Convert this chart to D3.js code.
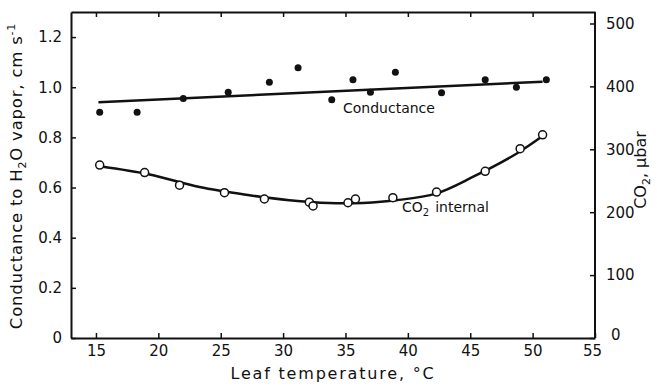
<!DOCTYPE html>
<html>
<head>
<meta charset="utf-8">
<script src="https://cdn.jsdelivr.net/npm/d3@7"></script>
<style>
  html, body { margin: 0; padding: 0; background: #fff; }
  svg text { font-family: "DejaVu Sans", sans-serif; fill: #111; }
</style>
</head>
<body>
<svg id="chart" width="657" height="390"></svg>
<script>
// leaf temperature (°C) and stomatal conductance (cm s-1), filled dots
const condTemp  = [15.3, 18.3, 22.0, 25.6, 28.9, 31.2, 33.9, 35.6, 37.0, 39.0, 42.7, 46.2, 48.7, 51.1];
const condValue = [0.90, 0.90, 0.955, 0.98, 1.02, 1.078, 0.95, 1.03, 0.98, 1.06, 0.978, 1.03, 1.0, 1.03];
// fitted conductance line (end points)
const condFitTemp  = [15.2, 50.8];
const condFitValue = [0.94, 1.022];

// internal CO2 (µbar), open circles
const co2Temp  = [15.3, 18.9, 21.7, 25.3, 28.5, 32.1, 32.4, 35.2, 35.8, 38.8, 42.3, 46.2, 49.0, 50.8];
const co2Value = [275, 263, 243, 231, 221, 216, 210, 215, 221, 223, 232, 265, 301, 323];
// hand drawn CO2 curve
const co2FitTemp  = [15.3, 19.3, 23.3, 27.3, 30.5, 33.7, 36.4, 39.1, 42.3, 45.2, 48.7, 50.8];
const co2FitValue = [273, 260, 240, 227, 219, 214.5, 214.8, 219, 230, 256, 293, 321];

const xTicks = [15, 20, 25, 30, 35, 40, 45, 50, 55];
const yLeftTicks = [0, 0.2, 0.4, 0.6, 0.8, 1.0, 1.2];
const yRightTicks = [0, 100, 200, 300, 400, 500];

const margin = {left: 71, right: 62, top: 12, bottom: 52};
const W = 657, H = 390;
const FONT = '"DejaVu Sans", sans-serif';

const svg = d3.select('#chart');

const x = d3.scaleLinear().domain([13, 55]).range([margin.left, W - margin.right]);
const yL = d3.scaleLinear().domain([0, 1.3]).range([H - margin.bottom, margin.top]);
const yR = d3.scaleLinear().domain([0, 500]).range([H - margin.bottom, 23.5]);

const fmtL = d => d === 0 ? '0' : d3.format('.1f')(d);

// bottom axis (ticks point inward)
const xAxisG = svg.append('g')
  .attr('transform', `translate(0,${H - margin.bottom})`)
  .call(d3.axisBottom(x).tickValues(xTicks).tickSize(-5).tickPadding(7).tickSizeOuter(0));
// top border with inward ticks, no labels
const topG = svg.append('g')
  .attr('transform', `translate(0,${margin.top})`)
  .call(d3.axisTop(x).tickValues(xTicks.slice(0, -1)).tickSize(-5).tickFormat('').tickSizeOuter(0));
const yLG = svg.append('g')
  .attr('transform', `translate(${margin.left},0)`)
  .call(d3.axisLeft(yL).tickValues(yLeftTicks).tickFormat(fmtL).tickSize(-5).tickPadding(9).tickSizeOuter(0));
const yRG = svg.append('g')
  .attr('transform', `translate(${W - margin.right},0)`)
  .call(d3.axisRight(yR).tickValues(yRightTicks).tickSize(-5).tickPadding(11).tickSizeOuter(0));

[xAxisG, topG, yLG, yRG].forEach(g => {
  g.select('.domain').attr('stroke', '#111').attr('stroke-width', 2);
  g.selectAll('.tick line').attr('stroke', '#111').attr('stroke-width', 1.5);
  g.selectAll('.tick text').attr('font-size', 15).attr('fill', '#111')
    .style('font-family', FONT);
});
// right axis domain should reach the top border
yRG.select('.domain').attr('d', `M0,${margin.top}V${H - margin.bottom}`);
xAxisG.selectAll('.tick text').attr('dy', '0.71em');
yRG.selectAll('.tick').filter(d => d === 0).select('text').attr('dy', '0.1em').attr('x', 16);
xAxisG.selectAll('.tick').filter(d => d === 55).select('text').attr('dx', '-0.2em');

// conductance fitted line
const lineL = d3.line().x(d => x(d[0])).y(d => yL(d[1]));
svg.append('path')
  .datum(d3.zip(condFitTemp, condFitValue))
  .attr('d', lineL)
  .attr('fill', 'none').attr('stroke', '#111').attr('stroke-width', 2.5);

// CO2 curve
const lineR = d3.line().x(d => x(d[0])).y(d => yR(d[1])).curve(d3.curveCatmullRom);
svg.append('path')
  .datum(d3.zip(co2FitTemp, co2FitValue))
  .attr('d', lineR)
  .attr('fill', 'none').attr('stroke', '#111').attr('stroke-width', 2.5);

// conductance points
svg.append('g').selectAll('circle')
  .data(d3.zip(condTemp, condValue))
  .join('circle')
  .attr('cx', d => x(d[0])).attr('cy', d => yL(d[1]))
  .attr('r', 3.5).attr('fill', '#111');

// CO2 points
svg.append('g').selectAll('circle')
  .data(d3.zip(co2Temp, co2Value))
  .join('circle')
  .attr('cx', d => x(d[0])).attr('cy', d => yR(d[1]))
  .attr('r', 4).attr('fill', '#fff').attr('stroke', '#111').attr('stroke-width', 1.5);

// series labels
svg.append('text')
  .attr('x', 343).attr('y', 113)
  .attr('font-size', 14)
  .text('Conductance');
const co2Lab = svg.append('text')
  .attr('x', 402).attr('y', 212)
  .attr('font-size', 14);
co2Lab.append('tspan').text('CO');
co2Lab.append('tspan').attr('font-size', 10).attr('dy', 4).text('2');
co2Lab.append('tspan').attr('dy', -4).attr('dx', 6).text('internal');

// axis titles
svg.append('text')
  .attr('x', 333).attr('y', 379)
  .attr('text-anchor', 'middle')
  .attr('font-size', 16)
  .attr('letter-spacing', 1.8)
  .text('Leaf temperature, °C');

const yTitle = svg.append('text')
  .attr('transform', 'translate(22,176) rotate(-90)')
  .attr('text-anchor', 'middle')
  .attr('font-size', 16.5)
  .attr('letter-spacing', 0.8);
yTitle.append('tspan').text('Conductance to H');
yTitle.append('tspan').attr('font-size', 11).attr('dy', 4).text('2');
yTitle.append('tspan').attr('dy', -4).text('O vapor,  cm s');
yTitle.append('tspan').attr('font-size', 11).attr('dy', -7).text('-1');

const rTitle = svg.append('text')
  .attr('transform', 'translate(646,170) rotate(-90)')
  .attr('text-anchor', 'middle')
  .attr('font-size', 16);
rTitle.append('tspan').text('CO');
rTitle.append('tspan').attr('font-size', 11).attr('dy', 4).text('2');
rTitle.append('tspan').attr('dy', -4).text(', µbar');
</script>
</body>
</html>
